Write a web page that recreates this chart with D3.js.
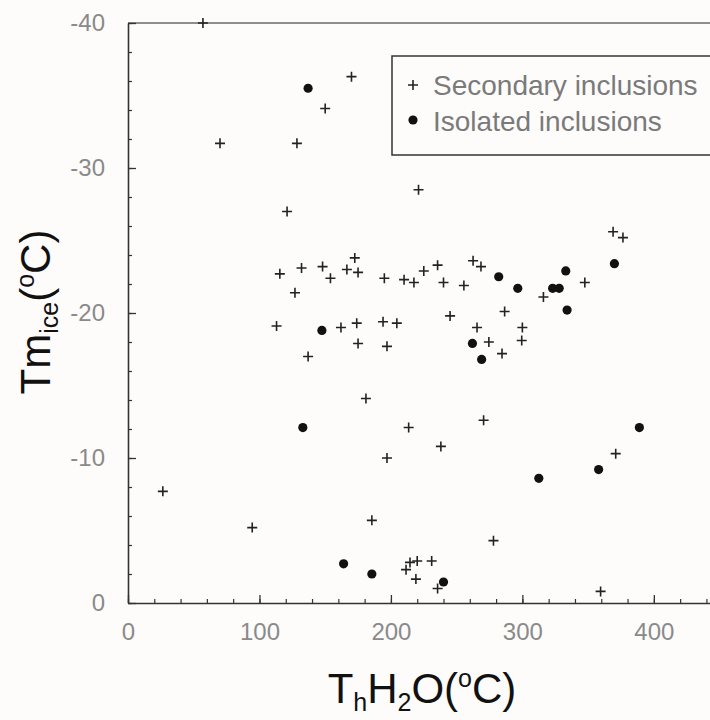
<!DOCTYPE html>
<html>
<head>
<meta charset="utf-8">
<script src="https://cdn.jsdelivr.net/npm/d3@7"></script>
<style>
  html, body { margin: 0; padding: 0; background: #fdfcfa; }
  svg { display: block; }
  text { font-family: "Liberation Sans", Arial, sans-serif; }
</style>
</head>
<body>
<svg id="chart" width="710" height="720"></svg>
<script>
// ---- Data ----
// Secondary inclusions: Th H2O (°C) and Tm ice (°C)
const secondaryTh = [57, 170, 150, 70, 128.5, 121, 115.5, 132, 148, 154, 127, 172.5, 166.5, 175,
  221, 195, 210, 217.5, 225, 235.5, 240, 255.5, 262.5, 268.5, 347.5, 316, 286.5, 245, 265.5, 300,
  274.5, 299.5, 284.5, 174, 194, 204.5, 175, 197, 113, 162, 137, 181, 213.5, 270.5, 238, 197, 371,
  185.5, 278, 220, 214.5, 231, 211.5, 219, 235.5, 359.5, 369, 376.5, 26.5, 94.5];
const secondaryTm = [-40.0, -36.3, -34.1, -31.7, -31.7, -27.0, -22.7, -23.1, -23.2, -22.4, -21.4, -23.8, -23.0, -22.8,
  -28.5, -22.4, -22.3, -22.1, -22.9, -23.3, -22.1, -21.9, -23.6, -23.2, -22.1, -21.1, -20.1, -19.8, -19.0, -19.0,
  -18.0, -18.1, -17.2, -19.3, -19.4, -19.3, -17.9, -17.7, -19.1, -19.0, -17.0, -14.1, -12.1, -12.6, -10.8, -10.0, -10.3,
  -5.7, -4.3, -2.9, -2.8, -2.9, -2.3, -1.65, -1.0, -0.8, -25.6, -25.2, -7.7, -5.2];

// Isolated inclusions
const isolatedTh = [137, 147.5, 133, 164, 185.5, 240, 262, 269, 282, 296.5, 323, 328, 333, 334, 312.5, 358, 389, 370];
const isolatedTm = [-35.5, -18.8, -12.1, -2.7, -2.0, -1.45, -17.9, -16.8, -22.5, -21.7, -21.7, -21.7, -22.9, -20.2, -8.6, -9.2, -12.1, -23.4];

const xTickValues = [0, 100, 200, 300, 400];
const xTickLabels = ["0", "100", "200", "300", "400"];
const yTickValues = [0, -10, -20, -30, -40];
const yTickLabels = ["0", "-10", "-20", "-30", "-40"];
const legendLabels = ["Secondary inclusions", "Isolated inclusions"];

// ---- Layout ----
const svg = d3.select("#chart");
const x = d3.scaleLinear().domain([0, 445]).range([128, 713]);
const y = d3.scaleLinear().domain([0, -40]).range([603, 23]);

// top frame line
svg.append("line")
  .attr("x1", x(0)).attr("x2", 710)
  .attr("y1", y(-40)).attr("y2", y(-40))
  .attr("stroke", "#6a6a6a").attr("stroke-width", 1.3);

// x axis (ticks inward)
const xMinor = d3.range(0, 446, 20);
svg.append("g")
  .attr("transform", `translate(0,${y(0)})`)
  .call(d3.axisBottom(x).tickValues(xMinor).tickSize(-4).tickFormat("").tickSizeOuter(0))
  .call(g => g.select(".domain").remove())
  .call(g => g.selectAll("line").attr("stroke", "#333").attr("stroke-width", 1.2));
const xAxis = svg.append("g")
  .attr("transform", `translate(0,${y(0)})`)
  .call(d3.axisBottom(x).tickValues(xTickValues).tickSize(-8).tickSizeOuter(0).tickPadding(20)
        .tickFormat((d, i) => xTickLabels[i]));
xAxis.select(".domain").attr("stroke", "#333").attr("stroke-width", 1.6);
xAxis.selectAll("line").attr("stroke", "#333").attr("stroke-width", 1.3);
xAxis.selectAll("text").attr("font-size", 24).attr("fill", "#8a8a8a")
  .attr("font-family", "'Liberation Sans Narrow', 'Liberation Sans', sans-serif");

// y axis (ticks inward)
const yMinor = d3.range(0, -41, -2);
svg.append("g")
  .attr("transform", `translate(${x(0)},0)`)
  .call(d3.axisLeft(y).tickValues(yMinor).tickSize(-4).tickFormat("").tickSizeOuter(0))
  .call(g => g.select(".domain").remove())
  .call(g => g.selectAll("line").attr("stroke", "#333").attr("stroke-width", 1.2));
const yAxis = svg.append("g")
  .attr("transform", `translate(${x(0)},0)`)
  .call(d3.axisLeft(y).tickValues(yTickValues).tickSize(-8).tickSizeOuter(0).tickPadding(23)
        .tickFormat((d, i) => yTickLabels[i]));
yAxis.select(".domain").attr("stroke", "#333").attr("stroke-width", 1.6);
yAxis.selectAll("line").attr("stroke", "#333").attr("stroke-width", 1.3);
yAxis.selectAll("text").attr("font-size", 24).attr("fill", "#8a8a8a")
  .attr("font-family", "'Liberation Sans Narrow', 'Liberation Sans', sans-serif");

// ---- Marks ----
const plusPath = "M-5,0H5M0,-5V5";
const secondary = secondaryTh.map((t, i) => ({ t, m: secondaryTm[i] }));
const isolated = isolatedTh.map((t, i) => ({ t, m: isolatedTm[i] }));

svg.append("g").selectAll("path")
  .data(secondary).join("path")
  .attr("d", plusPath)
  .attr("transform", d => `translate(${x(d.t)},${y(d.m)})`)
  .attr("stroke", "#222").attr("stroke-width", 1.6).attr("fill", "none");

svg.append("g").selectAll("circle")
  .data(isolated).join("circle")
  .attr("cx", d => x(d.t)).attr("cy", d => y(d.m))
  .attr("r", 4.6).attr("fill", "#111");

// ---- Legend ----
const lg = svg.append("g");
lg.append("rect")
  .attr("x", 392).attr("y", 56).attr("width", 330).attr("height", 99)
  .attr("fill", "#fdfcfa").attr("stroke", "#333").attr("stroke-width", 1.5);
lg.append("path").attr("d", plusPath).attr("transform", "translate(413,85)")
  .attr("stroke", "#222").attr("stroke-width", 1.6);
lg.append("circle").attr("cx", 413).attr("cy", 120).attr("r", 4.6).attr("fill", "#111");
lg.selectAll("text.lbl").data(legendLabels).join("text")
  .attr("class", "lbl")
  .attr("x", 433).attr("y", (d, i) => 95 + i * 36)
  .attr("font-size", 28).attr("fill", "#7a7a7a")
  .text(d => d);

// ---- Axis titles ----
const xt = svg.append("text")
  .attr("x", 422).attr("y", 703)
  .attr("text-anchor", "middle")
  .attr("font-size", 42).attr("fill", "#111");
xt.append("tspan").text("T");
xt.append("tspan").attr("font-size", 25).attr("dy", 8).text("h");
xt.append("tspan").attr("dy", -8).text("H");
xt.append("tspan").attr("font-size", 25).attr("dy", 8).text("2");
xt.append("tspan").attr("dy", -8).text("O(");
xt.append("tspan").attr("font-size", 25).attr("dy", -16).text("o");
xt.append("tspan").attr("dy", 16).text("C)");

const yt = svg.append("text")
  .attr("transform", "translate(50,312) rotate(-90)")
  .attr("text-anchor", "middle")
  .attr("font-size", 42).attr("fill", "#111");
yt.append("tspan").text("Tm");
yt.append("tspan").attr("font-size", 25).attr("dy", 8).text("ice");
yt.append("tspan").attr("dy", -8).text("(");
yt.append("tspan").attr("font-size", 25).attr("dy", -16).text("o");
yt.append("tspan").attr("dy", 16).text("C)");
</script>
</body>
</html>
